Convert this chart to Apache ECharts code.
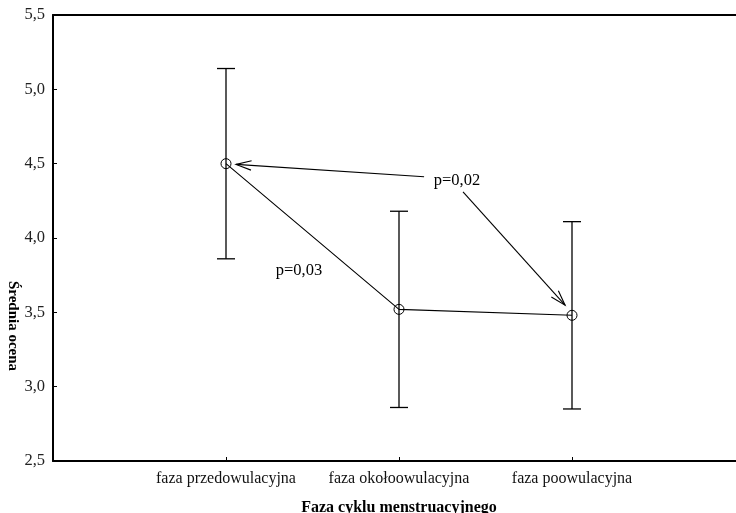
<!DOCTYPE html>
<html>
<head>
<meta charset="utf-8">
<script src="https://cdn.jsdelivr.net/npm/echarts@6/dist/echarts.min.js"></script>
<style>
  html, body { margin: 0; padding: 0; background: #fff; }
  #chart { width: 736px; height: 513px; }
</style>
</head>
<body>
<div id="chart"></div>
<script>
// Cycle phases and mean ratings with their interval limits
const phases = ['faza przedowulacyjna', 'faza okołoowulacyjna', 'faza poowulacyjna'];
const means = [4.50, 3.52, 3.48];
const upper = [5.14, 4.18, 4.11];
const lower = [3.86, 2.86, 2.85];
const yTicks = [2.5, 3.0, 3.5, 4.0, 4.5, 5.0, 5.5];

// Significance notes: label text, label anchor, and arrow (from -> to) in data units
const noteTexts = ['p=0,02', 'p=0,03'];
const noteAnchors = [[2.335, 4.383], [1.422, 3.777]];
const arrowFrom = [[2.145, 4.412], [2.370, 4.311]];
const arrowTo = [[1.058, 4.495], [2.960, 3.548]];

const FONT = '"Liberation Serif", "Times New Roman", Times, serif';
const fmt = v => v.toFixed(1).replace('.', ',');

const chart = echarts.init(document.getElementById('chart'), null, { renderer: 'canvas' });

const option = {
  animation: false,
  backgroundColor: '#fff',
  grid: { left: 53, top: 15, right: -9, bottom: 52, containLabel: false, outerBoundsMode: 'none' },
  xAxis: [
    {
      type: 'value', min: 0, max: phases.length + 1, interval: 1,
      name: 'Faza cyklu menstruacyjnego',
      nameLocation: 'middle', nameGap: 39,
      nameTextStyle: { fontFamily: FONT, fontWeight: 'bold', fontSize: 16, color: '#000' },
      axisLine: { show: true, lineStyle: { color: '#000', width: 2 } },
      axisTick: { show: true, inside: true, length: 4, lineStyle: { color: '#000', width: 1 } },
      axisLabel: {
        margin: 10, fontFamily: FONT, fontSize: 16, color: '#111',
        formatter: v => phases[v - 1] || ''
      },
      splitLine: { show: false }
    },
    {
      type: 'value', position: 'top', min: 0, max: phases.length + 1,
      axisLine: { show: true, lineStyle: { color: '#000', width: 2 } },
      axisTick: { show: false }, axisLabel: { show: false }, splitLine: { show: false }
    }
  ],
  yAxis: {
    type: 'value', min: yTicks[0], max: yTicks[yTicks.length - 1], interval: 0.5,
    axisLine: { show: true, lineStyle: { color: '#000', width: 2 } },
    axisTick: { show: true, inside: true, length: 4, lineStyle: { color: '#000', width: 1 } },
    axisLabel: { margin: 8, fontFamily: FONT, fontSize: 16.5, color: '#222', formatter: fmt },
    splitLine: { show: false }
  },
  graphic: [
    {
      type: 'text', x: 13, y: 326, rotation: -Math.PI / 2,
      style: {
        text: 'Średnia ocena', fill: '#000',
        font: 'bold 15px ' + FONT, align: 'center', verticalAlign: 'middle'
      }
    }
  ],
  series: [
    {
      // interval whiskers with caps
      type: 'custom',
      data: phases.map((p, i) => [i + 1, upper[i], lower[i]]),
      renderItem: (params, api) => {
        const x = api.value(0);
        const hi = api.coord([x, api.value(1)]);
        const lo = api.coord([x, api.value(2)]);
        const cap = 9;
        const st = { stroke: '#000', lineWidth: 1.3 };
        return {
          type: 'group',
          children: [
            { type: 'line', shape: { x1: hi[0], y1: hi[1], x2: lo[0], y2: lo[1] }, style: st },
            { type: 'line', shape: { x1: hi[0] - cap, y1: hi[1], x2: hi[0] + cap, y2: hi[1] }, style: st },
            { type: 'line', shape: { x1: lo[0] - cap, y1: lo[1], x2: lo[0] + cap, y2: lo[1] }, style: st }
          ]
        };
      },
      z: 2
    },
    {
      // means joined by a line, hollow circle markers
      type: 'line',
      data: means.map((m, i) => [i + 1, m]),
      symbol: 'circle', symbolSize: 10,
      itemStyle: { color: 'rgba(0,0,0,0)', borderColor: '#000', borderWidth: 1 },
      lineStyle: { color: '#000', width: 1.1 },
      z: 3
    },
    {
      // arrows with open heads pointing at compared means
      type: 'custom',
      data: arrowFrom.map((f, i) => [f[0], f[1], arrowTo[i][0], arrowTo[i][1]]),
      renderItem: (params, api) => {
        const a = api.coord([api.value(0), api.value(1)]);
        const b = api.coord([api.value(2), api.value(3)]);
        const ang = Math.atan2(a[1] - b[1], a[0] - b[0]);
        const len = 16, spread = 0.3;
        const st = { stroke: '#000', lineWidth: 1.1 };
        const h1 = [b[0] + len * Math.cos(ang + spread), b[1] + len * Math.sin(ang + spread)];
        const h2 = [b[0] + len * Math.cos(ang - spread), b[1] + len * Math.sin(ang - spread)];
        return {
          type: 'group',
          children: [
            { type: 'line', shape: { x1: a[0], y1: a[1], x2: b[0], y2: b[1] }, style: st },
            { type: 'polyline', shape: { points: [h1, b, h2] }, style: Object.assign({ fill: null }, st) }
          ]
        };
      },
      z: 4
    },
    {
      // significance labels
      type: 'custom',
      data: noteAnchors.map((p, i) => [p[0], p[1], i]),
      renderItem: (params, api) => {
        const c = api.coord([api.value(0), api.value(1)]);
        return {
          type: 'text', x: c[0], y: c[1],
          style: {
            text: noteTexts[api.value(2)], fill: '#000',
            font: '16.5px ' + FONT, align: 'center', verticalAlign: 'middle'
          }
        };
      },
      z: 5
    }
  ]
};

chart.setOption(option);
</script>
</body>
</html>
